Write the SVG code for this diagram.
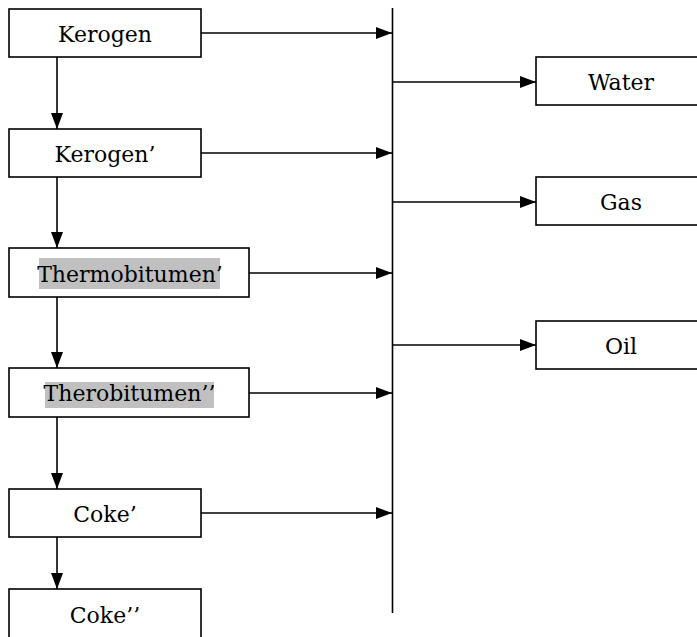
<svg xmlns="http://www.w3.org/2000/svg" width="697" height="637" viewBox="0 0 697 637">
<style>
.box{fill:#fff;stroke:#000;stroke-width:1.6}
.lbl{font-family:"DejaVu Serif","Liberation Serif",serif;font-size:22px;fill:#000;text-anchor:middle}
.hl{fill:#c0c0c0}
.conn{stroke:#000;stroke-width:1.6;fill:none}
</style>
<defs>
<marker id="ah" markerUnits="userSpaceOnUse" markerWidth="17" markerHeight="14" refX="16" refY="7" orient="auto">
<path d="M0,1 L16,7 L0,13 z" fill="#000"/>
</marker>
</defs>
<rect width="697" height="637" fill="#fff"/>
<g id="connectors">
<line class="conn" x1="392.5" y1="8" x2="392.5" y2="613"/>
<line class="conn" x1="201" y1="33" x2="392" y2="33" marker-end="url(#ah)"/>
<line class="conn" x1="201" y1="153" x2="392" y2="153" marker-end="url(#ah)"/>
<line class="conn" x1="249" y1="273" x2="392" y2="273" marker-end="url(#ah)"/>
<line class="conn" x1="249" y1="393" x2="392" y2="393" marker-end="url(#ah)"/>
<line class="conn" x1="201" y1="513" x2="392" y2="513" marker-end="url(#ah)"/>
<line class="conn" x1="57" y1="57" x2="57" y2="129" marker-end="url(#ah)"/>
<line class="conn" x1="57" y1="177" x2="57" y2="248" marker-end="url(#ah)"/>
<line class="conn" x1="57" y1="297" x2="57" y2="368" marker-end="url(#ah)"/>
<line class="conn" x1="57" y1="417" x2="57" y2="489" marker-end="url(#ah)"/>
<line class="conn" x1="57" y1="537" x2="57" y2="589" marker-end="url(#ah)"/>
<line class="conn" x1="393" y1="82" x2="536" y2="82" marker-end="url(#ah)"/>
<line class="conn" x1="393" y1="202" x2="536" y2="202" marker-end="url(#ah)"/>
<line class="conn" x1="393" y1="345" x2="536" y2="345" marker-end="url(#ah)"/>
</g>
<g id="kerogen"><rect class="box" x="9" y="9" width="192" height="48"/><text class="lbl" x="105" y="42">Kerogen</text></g>
<g id="kerogen2"><rect class="box" x="9" y="129" width="192" height="48"/><text class="lbl" x="105" y="162">Kerogen’</text></g>
<g id="thermobitumen1"><rect class="box" x="9" y="248" width="240" height="49"/><rect class="hl" x="39" y="258" width="181" height="31"/><text class="lbl" x="130" y="282">Thermobitumen’</text></g>
<g id="therobitumen2"><rect class="box" x="9" y="368" width="240" height="49"/><rect class="hl" x="45" y="382" width="169" height="26"/><text class="lbl" x="129.5" y="401">Therobitumen’’</text></g>
<g id="coke1"><rect class="box" x="9" y="489" width="192" height="48"/><text class="lbl" x="105" y="522">Coke’</text></g>
<g id="coke2"><rect class="box" x="9" y="589" width="192" height="50"/><text class="lbl" x="105" y="623">Coke’’</text></g>
<g id="water"><rect class="box" x="536" y="57" width="170" height="48"/><text class="lbl" x="621" y="90">Water</text></g>
<g id="gas"><rect class="box" x="536" y="177" width="170" height="48"/><text class="lbl" x="621" y="210">Gas</text></g>
<g id="oil"><rect class="box" x="536" y="321" width="170" height="48"/><text class="lbl" x="621" y="354">Oil</text></g>
</svg>
